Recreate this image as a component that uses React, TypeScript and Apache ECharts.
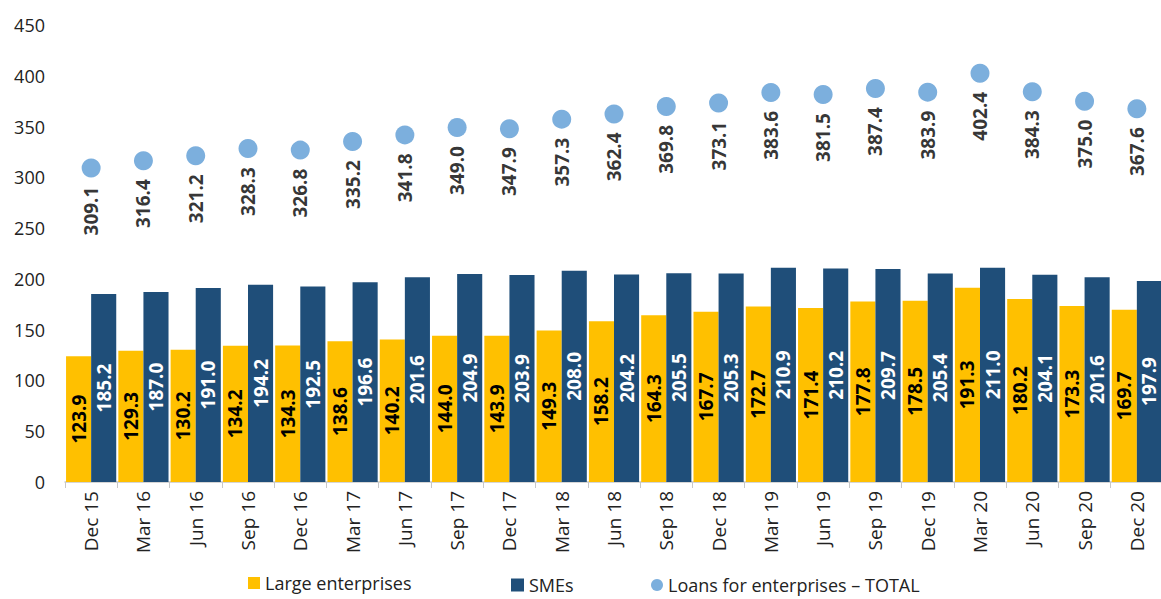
import React, { useEffect, useRef } from "react";
import * as echarts from "echarts";

const categories = ["Dec 15","Mar 16","Jun 16","Sep 16","Dec 16","Mar 17","Jun 17","Sep 17","Dec 17","Mar 18","Jun 18","Sep 18","Dec 18","Mar 19","Jun 19","Sep 19","Dec 19","Mar 20","Jun 20","Sep 20","Dec 20"];
const largeEnterprises = [123.9,129.3,130.2,134.2,134.3,138.6,140.2,144.0,143.9,149.3,158.2,164.3,167.7,172.7,171.4,177.8,178.5,191.3,180.2,173.3,169.7];
const smes = [185.2,187.0,191.0,194.2,192.5,196.6,201.6,204.9,203.9,208.0,204.2,205.5,205.3,210.9,210.2,209.7,205.4,211.0,204.1,201.6,197.9];
const totals = [309.1,316.4,321.2,328.3,326.8,335.2,341.8,349.0,347.9,357.3,362.4,369.8,373.1,383.6,381.5,387.4,383.9,402.4,384.3,375.0,367.6];

const FONT = "Open Sans";

export default function App() {
  const ref = useRef<HTMLDivElement>(null);
  useEffect(() => {
    if (!ref.current) return;
    const chart = echarts.init(ref.current, undefined, { renderer: "svg" });
    const fmt = (p: any) => Number(p.value).toFixed(1);
    const legendText = { fontFamily: FONT, fontSize: 18, color: "#222" };
    chart.setOption({
      animation: false,
      backgroundColor: "#ffffff",
      textStyle: { fontFamily: FONT },
      grid: { left: 65, top: 25, bottom: 117, width: 1098, outerBoundsMode: "none", containLabel: false },
      legend: [
        { left: 243, top: 569, itemWidth: 12, itemHeight: 12, itemGap: 6, data: [{ name: "Large enterprises", icon: "rect" }], textStyle: legendText },
        { left: 506, top: 571, itemWidth: 13, itemHeight: 13, data: [{ name: "SMEs", icon: "rect" }], textStyle: legendText },
        { left: 646, top: 571, itemWidth: 12, itemHeight: 12, data: [{ name: "Loans for enterprises – TOTAL", icon: "circle" }], textStyle: legendText },
      ],
      xAxis: {
        type: "category",
        data: categories,
        axisLine: { lineStyle: { color: "#c8c8c8", width: 1.5 } },
        axisTick: { show: true, length: 6, lineStyle: { color: "#c8c8c8" } },
        axisLabel: { rotate: 90, fontSize: 19, color: "#222", margin: 9, interval: 0, fontFamily: FONT },
      },
      yAxis: {
        type: "value",
        min: 0,
        max: 450,
        interval: 50,
        splitLine: { show: false },
        axisLine: { show: false },
        axisTick: { show: false },
        axisLabel: { fontSize: 18, color: "#222", margin: 20, fontFamily: FONT },
      },
      series: [
        {
          name: "Large enterprises",
          type: "bar",
          data: largeEnterprises,
          barGap: "0%",
          barCategoryGap: "4%",
          itemStyle: { color: "#FFC000" },
          label: { show: true, position: "inside", rotate: 90, fontSize: 19, fontWeight: "bold", color: "#000", formatter: fmt, fontFamily: FONT },
        },
        {
          name: "SMEs",
          type: "bar",
          data: smes,
          barGap: "0%",
          barCategoryGap: "4%",
          itemStyle: { color: "#1F4E79" },
          label: { show: true, position: "inside", rotate: 90, fontSize: 19, fontWeight: "bold", color: "#fff", formatter: fmt, fontFamily: FONT },
        },
        {
          name: "Loans for enterprises – TOTAL",
          type: "scatter",
          data: totals,
          symbol: "circle",
          symbolSize: 19,
          itemStyle: { color: "#5B9BD5" },
          label: { show: true, position: "bottom", distance: 9, rotate: 90, align: "right", verticalAlign: "middle", fontSize: 19, fontWeight: "bold", color: "#000", formatter: fmt, fontFamily: FONT },
        },
      ],
    });
    return () => chart.dispose();
  }, []);
  return <div ref={ref} style={{ position: "absolute", left: 0, top: 0, width: 1161, height: 599 }} />;
}
